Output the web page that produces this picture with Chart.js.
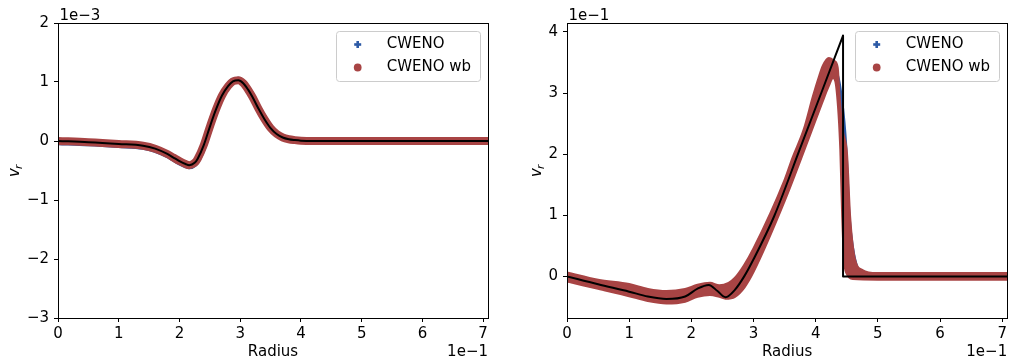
<!DOCTYPE html>
<html>
<head>
<meta charset="utf-8">
<script src="https://cdn.jsdelivr.net/npm/chart.js@4.4.0/dist/chart.umd.min.js"></script>
<style>
body { margin: 0; background: #fff; }
.panel { position: absolute; top: 0; width: 505px; height: 362px; }
#left { left: 0; }
#right { left: 505px; }
</style>
</head>
<body>
<div class="panel" id="left"><canvas id="leftChart" width="505" height="362"></canvas></div>
<div class="panel" id="right"><canvas id="rightChart" width="505" height="362"></canvas></div>
<script>

/* LEFT PANEL: radius in 1e-1, v_r in 1e-3 */

const radiusL = [0, 0.5, 1.0, 1.4, 1.6, 1.8, 1.9, 2.0, 2.1, 2.16, 2.25, 2.3, 2.4, 2.5, 2.6, 2.7, 2.8, 2.88, 2.97, 3.05, 3.13, 3.2, 3.3, 3.4, 3.5, 3.6, 3.7, 3.8, 3.9, 4.0, 4.2, 4.5, 5.0, 6.0, 7.08]
const exactL = [0, -0.02, -0.05, -0.08, -0.13, -0.22, -0.28, -0.34, -0.39, -0.41, -0.37, -0.30, -0.07, 0.24, 0.53, 0.77, 0.93, 1.01, 1.03, 0.98, 0.87, 0.75, 0.55, 0.37, 0.22, 0.12, 0.06, 0.03, 0.015, 0.005, 0, 0, 0, 0, 0]
const cwenoL = [-0.02, -0.04, -0.07, -0.10, -0.15, -0.24, -0.30, -0.36, -0.41, -0.43, -0.39, -0.32, -0.09, 0.22, 0.52, 0.76, 0.93, 1.02, 1.04, 0.99, 0.88, 0.76, 0.56, 0.38, 0.23, 0.12, 0.06, 0.03, 0.01, 0, 0, 0, 0, 0, 0]
const cwenoWbL = [0, -0.02, -0.05, -0.08, -0.13, -0.22, -0.28, -0.34, -0.39, -0.41, -0.37, -0.30, -0.07, 0.24, 0.53, 0.77, 0.93, 1.01, 1.03, 0.98, 0.87, 0.75, 0.55, 0.37, 0.22, 0.12, 0.06, 0.03, 0.015, 0.005, 0, 0, 0, 0, 0]

/* RIGHT PANEL: radius in 1e-1, v_r in 1e-1 */

const radiusExactR = [0, 0.5, 1.0, 1.3, 1.6, 1.9, 2.1, 2.28, 2.42, 2.55, 2.7, 2.85, 3.0, 3.33, 3.74, 4.1, 4.44]
const exactR = [0, -0.13, -0.25, -0.33, -0.37, -0.33, -0.2, -0.14, -0.24, -0.34, -0.22, 0.0, 0.28, 0.98, 2.07, 3.03, 3.94]
const radiusShockR = [4.44, 4.44, 7.08]
const shockR = [3.94, 0, 0]

const radiusCwenoR = [0, 0.5, 1.0, 1.3, 1.6, 1.9, 2.1, 2.3, 2.45, 2.55, 2.7, 2.85, 3.0, 3.5, 4.0, 4.2, 4.3, 4.4, 4.47, 4.52, 4.58, 4.65, 4.75, 4.9, 7.08]
const cwenoR = [-0.02, -0.14, -0.25, -0.31, -0.35, -0.31, -0.23, -0.21, -0.25, -0.3, -0.2, 0.05, 0.33, 1.42, 2.75, 3.3, 3.35, 2.9, 2.1, 1.0, 0.45, 0.14, 0.0, -0.01, -0.01]

const radiusWbUpperR = [0, 0.5, 1.0, 1.3, 1.6, 1.9, 2.1, 2.3, 2.45, 2.6, 2.7, 2.85, 3.0, 3.5, 3.63, 3.81, 3.96, 4.05, 4.12, 4.21, 4.30, 4.35, 4.38, 4.43, 4.50, 4.55, 4.63, 4.75, 4.85, 5.0, 7.08]
const wbUpperR = [0.06, -0.06, -0.13, -0.21, -0.245, -0.21, -0.14, -0.11, -0.15, -0.11, -0.03, 0.18, 0.45, 1.57, 1.94, 2.40, 2.95, 3.25, 3.45, 3.57, 3.52, 3.42, 2.95, 2.40, 2.0, 0.98, 0.27, 0.1, 0.06, 0.05, 0.05]
const radiusWbLowerR = [0, 0.5, 1.0, 1.3, 1.6, 1.9, 2.1, 2.3, 2.45, 2.55, 2.7, 2.85, 3.0, 3.5, 3.9, 4.1, 4.2, 4.28, 4.34, 4.40, 4.43, 4.46, 4.5, 4.6, 5.0, 7.08]
const wbLowerR = [-0.08, -0.2, -0.32, -0.40, -0.44, -0.41, -0.33, -0.30, -0.33, -0.36, -0.33, -0.18, 0.08, 1.24, 2.30, 2.84, 3.1, 3.25, 3.05, 2.07, 0.98, 0.27, 0.05, -0.04, -0.05, -0.05]

const xTicks = [0, 1, 2, 3, 4, 5, 6, 7]

const FONT = '"DejaVu Sans", sans-serif'
const RED = "#a84444"
const BLUE = "#2d5aa6"

const pts = (xs, ys) => xs.map((x, i) => ({ x: x, y: ys[i] }))
const fmt = v => (v < 0 ? "\u2212" : "") + Math.abs(Math.round(v))


/* FRAME, LABELS AND LEGEND */

const decor = {
    id: "decor",
    afterDraw(chart, args, o) {
        const ctx = chart.ctx
        const a = chart.chartArea
        ctx.save()

        ctx.strokeStyle = "#000"
        ctx.lineWidth = 1
        ctx.strokeRect(Math.round(a.left) + 0.5, Math.round(a.top) + 0.5,
            Math.round(a.right - a.left), Math.round(a.bottom - a.top))

        ctx.fillStyle = "#000"
        ctx.font = "15px " + FONT
        ctx.textBaseline = "alphabetic"
        ctx.textAlign = "left"
        ctx.fillText(o.yOffset, a.left + 1.5, 20)
        ctx.textAlign = "right"
        ctx.fillText("1e\u22121", a.right, 356)
        ctx.textAlign = "center"
        ctx.fillText("Radius", (a.left + a.right) / 2, 356)

        // y label v_r
        ctx.save()
        ctx.translate(o.yLabelX, (a.top + a.bottom) / 2)
        ctx.rotate(-Math.PI / 2)
        ctx.textAlign = "left"
        ctx.font = "italic 15px " + FONT
        ctx.fillText("v", -6.5, 0)
        ctx.font = "italic 10.5px " + FONT
        ctx.fillText("r", 1.5, 2.5)
        ctx.restore()

        // legend
        const w = 144, h = 50
        const x0 = Math.round(a.right - 8 - w), y0 = Math.round(a.top + 8)
        ctx.beginPath()
        ctx.roundRect(x0 + 0.5, y0 + 0.5, w, h, 3)
        ctx.fillStyle = "rgba(255,255,255,0.8)"
        ctx.fill()
        ctx.strokeStyle = "#cccccc"
        ctx.stroke()

        const mx = x0 + 21.7, r1 = y0 + 13.5, r2 = y0 + 36.5
        ctx.fillStyle = BLUE
        ctx.fillRect(mx - 3.5, r1 - 1.3, 7, 2.6)
        ctx.fillRect(mx - 1.3, r1 - 3.5, 2.6, 7)
        ctx.fillStyle = RED
        ctx.beginPath()
        ctx.arc(mx, r2, 3.9, 0, Math.PI * 2)
        ctx.fill()

        ctx.fillStyle = "#000"
        ctx.font = "15px " + FONT
        ctx.textAlign = "left"
        ctx.textBaseline = "middle"
        ctx.fillText("CWENO", x0 + 50.7, r1)
        ctx.fillText("CWENO wb", x0 + 50.7, r2)
        ctx.restore()
    }
}


function axisX() {
    return {
        type: "linear", min: 0, max: 7.08,
        afterFit: s => { s.height = 44 },
        afterBuildTicks: s => { s.ticks = xTicks.map(v => ({ value: v })) },
        border: { display: false },
        grid: { display: true, drawOnChartArea: false, drawTicks: true, tickLength: 4, color: "#000", lineWidth: 1 },
        ticks: { color: "#000", font: { family: FONT, size: 15 }, padding: 3, maxRotation: 0, autoSkip: false, callback: fmt }
    }
}

function axisY(min, max, width) {
    return {
        type: "linear", min: min, max: max,
        afterFit: s => { s.width = width },
        border: { display: false },
        grid: { display: true, drawOnChartArea: false, drawTicks: true, tickLength: 4, color: "#000", lineWidth: 1 },
        ticks: { color: "#000", font: { family: FONT, size: 15 }, padding: 5, stepSize: 1, includeBounds: false, autoSkip: false, callback: fmt }
    }
}

const smooth = { cubicInterpolationMode: "monotone", pointRadius: 0, borderCapStyle: "round", borderJoinStyle: "round", fill: false }


/* LEFT CHART */

new Chart(document.getElementById("leftChart"), {
    type: "line",
    data: {
        datasets: [
            { ...smooth, label: "exact", data: pts(radiusL, exactL), borderColor: "#000", borderWidth: 2, order: 0 },
            { ...smooth, label: "CWENO wb", data: pts(radiusL, cwenoWbL), borderColor: RED, borderWidth: 8, order: 1 },
            { ...smooth, label: "CWENO", data: pts(radiusL, cwenoL), borderColor: BLUE, borderWidth: 6, order: 2 }
        ]
    },
    options: {
        responsive: false, animation: false, devicePixelRatio: 1,
        layout: { padding: { top: 23, right: 17, bottom: 0, left: 0 }, autoPadding: false },
        plugins: { legend: { display: false }, tooltip: { enabled: false }, decor: { yOffset: "1e\u22123", yLabelX: 19 } },
        scales: { x: axisX(), y: axisY(-3, 2, 58) }
    },
    plugins: [decor]
})


/* RIGHT CHART */

new Chart(document.getElementById("rightChart"), {
    type: "line",
    data: {
        datasets: [
            { ...smooth, label: "exact", data: pts(radiusExactR, exactR), borderColor: "#000", borderWidth: 2, order: 0 },
            { ...smooth, label: "shock", data: pts(radiusShockR, shockR), cubicInterpolationMode: "default", tension: 0, borderColor: "#000", borderWidth: 2, order: 0 },
            { ...smooth, label: "CWENO wb upper", data: pts(radiusWbUpperR, wbUpperR), borderColor: RED, backgroundColor: RED, borderWidth: 2.5, order: 1 },
            { ...smooth, label: "CWENO wb lower", data: pts(radiusWbLowerR, wbLowerR), borderColor: RED, backgroundColor: RED, borderWidth: 2.5, fill: 2, order: 1 },
            { ...smooth, label: "CWENO", data: pts(radiusCwenoR, cwenoR), borderColor: BLUE, borderWidth: 5, order: 2 }
        ]
    },
    options: {
        responsive: false, animation: false, devicePixelRatio: 1,
        layout: { padding: { top: 23, right: 1, bottom: 0, left: 0 }, autoPadding: false },
        plugins: { legend: { display: false }, tooltip: { enabled: false }, decor: { yOffset: "1e\u22121", yLabelX: 36 } },
        scales: { x: axisX(), y: axisY(-0.681, 4.147, 62) }
    },
    plugins: [decor]
})

</script>
</body>
</html>
